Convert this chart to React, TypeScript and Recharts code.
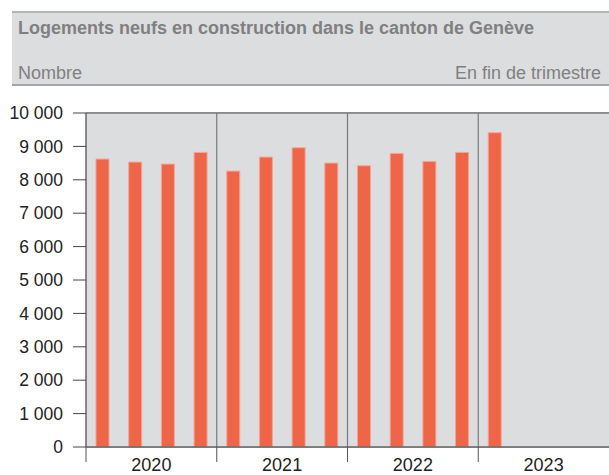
import React from 'react';
import { BarChart, Bar, XAxis, YAxis, CartesianGrid, ReferenceLine } from 'recharts';

const years = ['2020', '2021', '2022', '2023'];
const quarters = ['T1', 'T2', 'T3', 'T4'];
const values: (number | null)[] = [
  8620, 8530, 8470, 8820,
  8260, 8680, 8960, 8500,
  8420, 8790, 8550, 8820,
  9410, null, null, null,
];
const yTicks = [0, 1000, 2000, 3000, 4000, 5000, 6000, 7000, 8000, 9000, 10000];

const title = 'Logements neufs en construction dans le canton de Genève';
const unitLabel = 'Nombre';
const periodLabel = 'En fin de trimestre';

const data = years.flatMap((y, yi) =>
  quarters.map((q, qi) => ({ key: `${y}${q}`, year: y, value: values[yi * 4 + qi] }))
);

const FONT = '"Liberation Sans", Arial, sans-serif';

const YearTick = (props: any) => {
  const { x, y, payload, index } = props;
  if (index % 4 !== 0) return null;
  const off = payload.offset || 0;
  const start = x - off;
  const center = x + 3 * off;
  const entry = data[index];
  return (
    <g>
      <line x1={start} y1={y} x2={start} y2={y + 15} stroke="#555" strokeWidth={1} />
      <text x={center} y={y + 24} textAnchor="middle" fill="#222" fontSize={18} fontFamily={FONT}>
        {entry ? entry.year : ''}
      </text>
    </g>
  );
};

const fmt = (v: number) => v.toLocaleString('fr-CH').replace(/[\u2019'\u202f\u00a0]/g, ' ');

export default function App() {
  return (
    <div style={{ position: 'fixed', left: 0, top: 0, width: 609, height: 475, background: '#fff', fontFamily: FONT }}>
      <div
        style={{
          position: 'absolute', left: 12, top: 11, width: 597, height: 75,
          background: '#dcdddf', borderTop: '2px solid #b4b5b7', borderBottom: '2px solid #a5a6a8',
          color: '#808080', boxSizing: 'border-box',
        }}
      >
        <div style={{ position: 'absolute', left: 6, top: 5, fontWeight: 'bold', fontSize: 18, whiteSpace: 'nowrap' }}>{title}</div>
        <div style={{ position: 'absolute', left: 6, top: 50, fontSize: 18 }}>{unitLabel}</div>
        <div style={{ position: 'absolute', right: 8, top: 50, fontSize: 18 }}>{periodLabel}</div>
      </div>
      <div style={{ position: 'absolute', left: 0, top: 0 }}>
        <BarChart width={609} height={475} data={data} margin={{ top: 113, right: 0, bottom: 0, left: 0 }} barSize={13}>
          <rect x={86} y={113} width={523} height={334} fill="#dcdddf" />
          <CartesianGrid vertical={false} stroke="#a6a6a6" strokeWidth={1.5} fill="#dcdddf" />
          <XAxis
            dataKey="key"
            height={28}
            tickSize={0}
            tickMargin={0}
            tickLine={false}
            axisLine={{ stroke: '#666', strokeWidth: 1.5 }}
            interval={0}
            tick={<YearTick />}
          />
          <YAxis
            width={86}
            domain={[0, 10000]}
            ticks={yTicks}
            tickFormatter={fmt}
            tickSize={13}
            tickMargin={10}
            tickLine={{ stroke: '#444' }}
            axisLine={{ stroke: '#666', strokeWidth: 1.5 }}
            tick={{ fill: '#222', fontSize: 17.5, fontFamily: FONT }}
          />
          {data.filter((_, i) => i % 4 === 0 && i > 0).map((d) => (
            <ReferenceLine key={d.key} x={d.key} position="start" stroke="#7a7a7a" strokeWidth={1.2} />
          ))}
          <ReferenceLine y={10000} stroke="#7a7a7a" strokeWidth={1.5} />
          <Bar dataKey="value" fill="#ef6548" stroke="#f2a596" strokeWidth={1} isAnimationActive={false} />
        </BarChart>
      </div>
    </div>
  );
}
